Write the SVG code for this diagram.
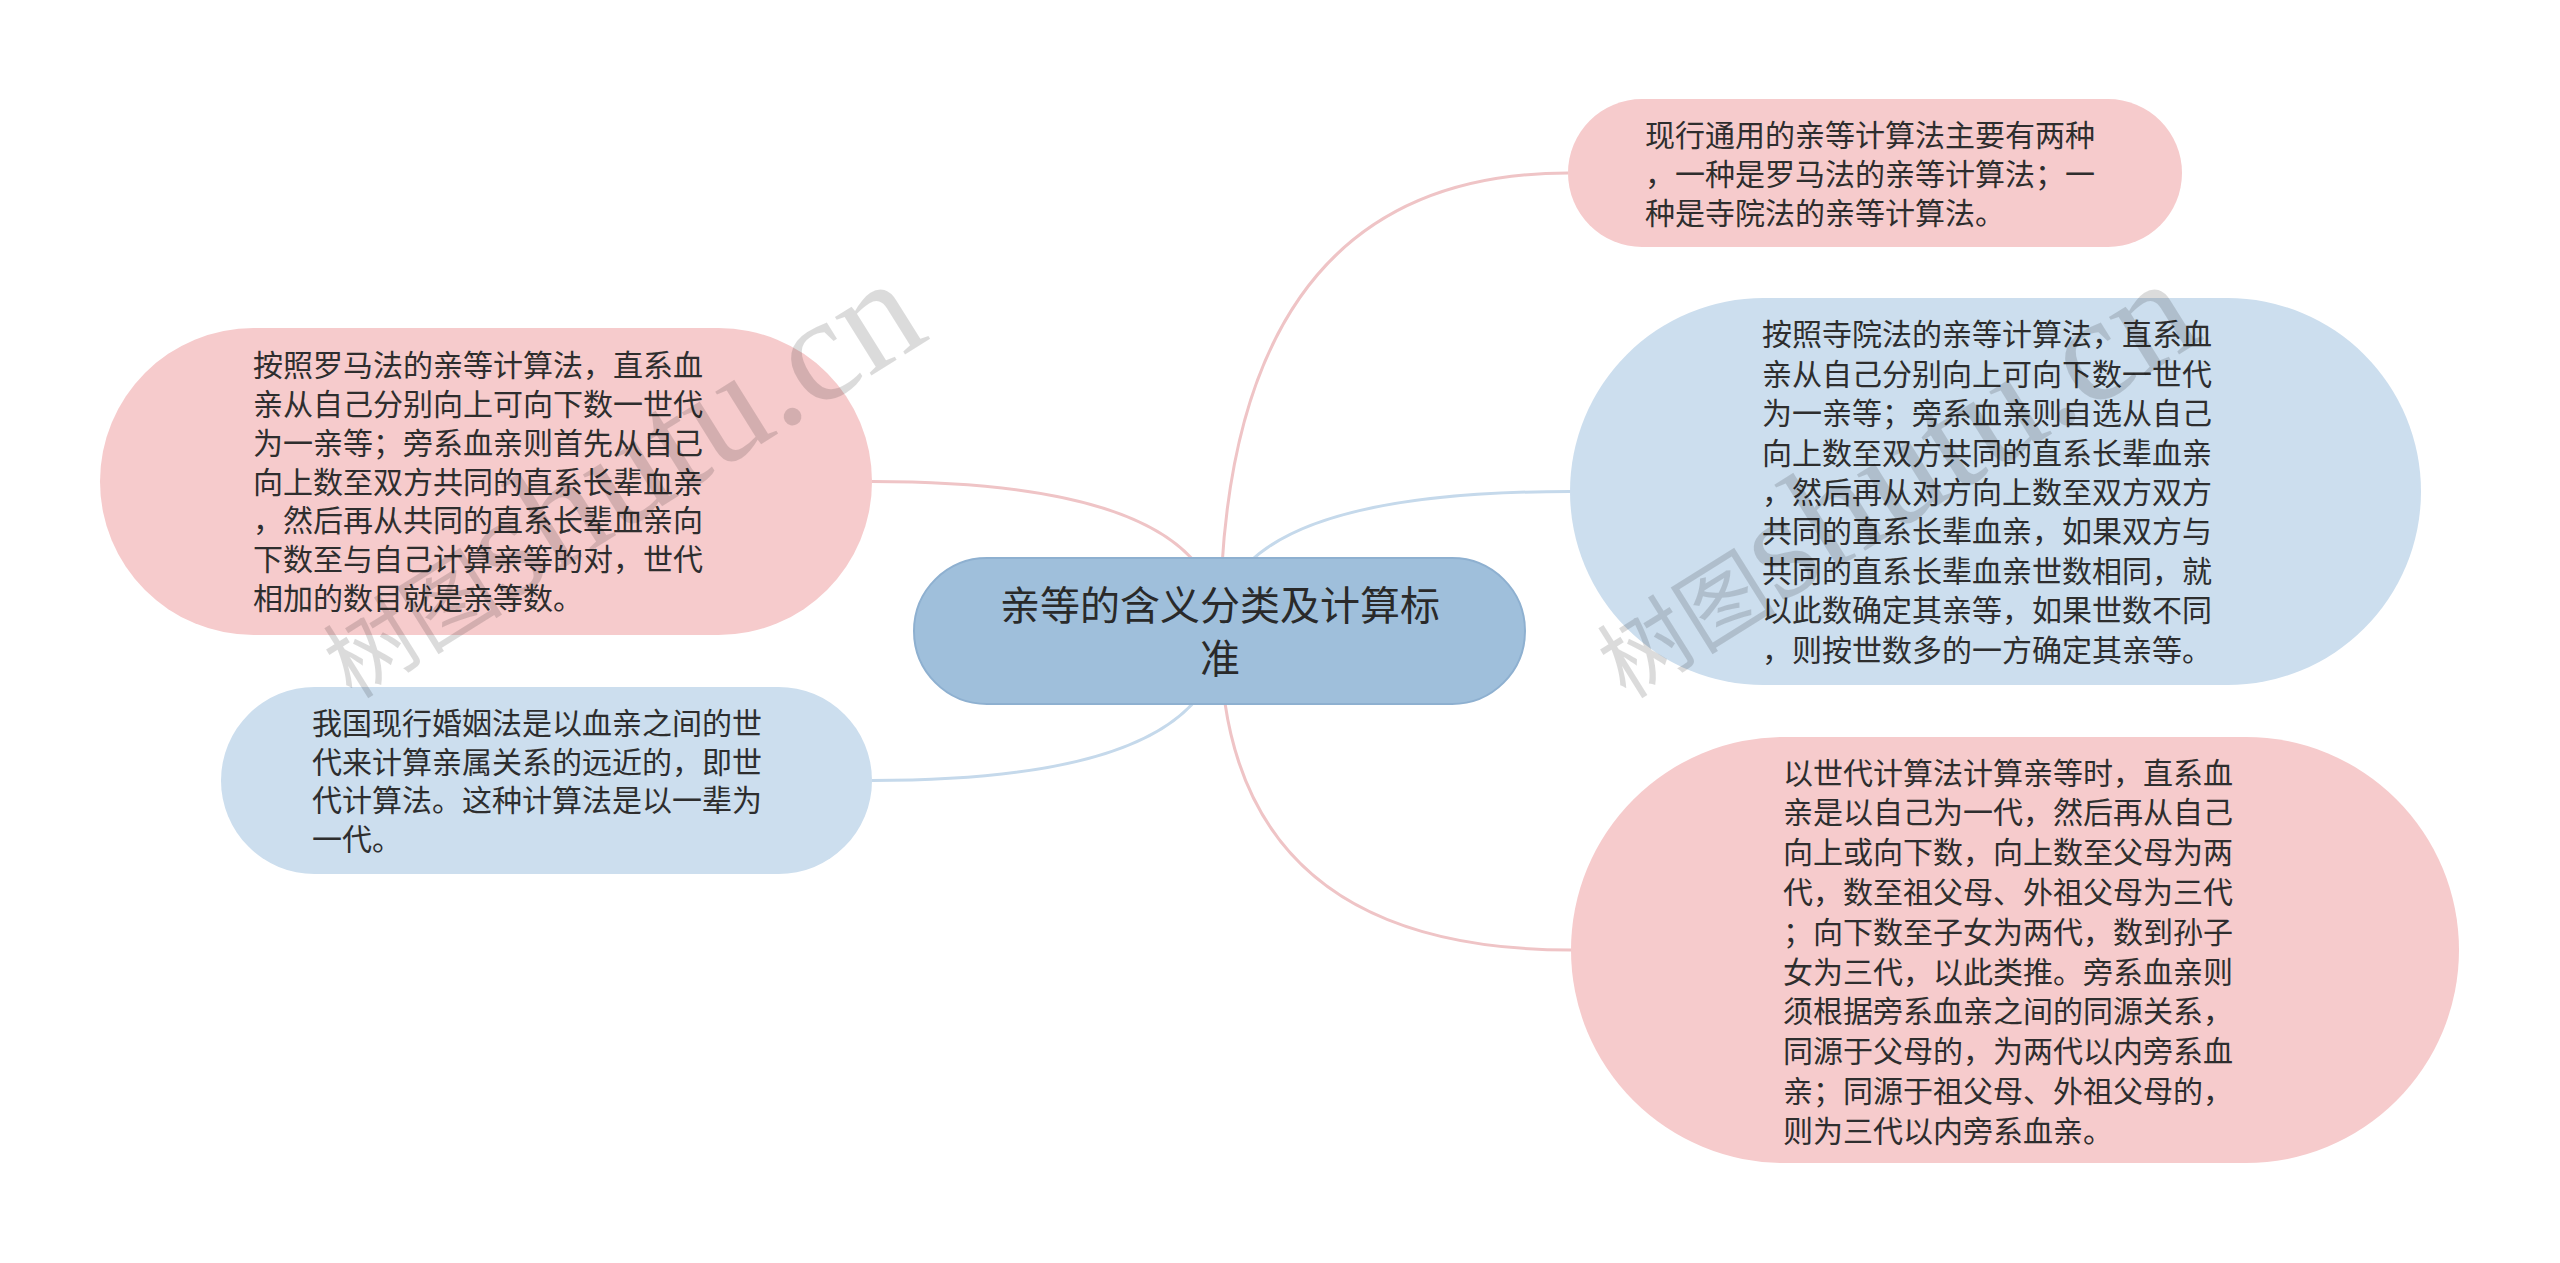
<svg xmlns="http://www.w3.org/2000/svg" width="2560" height="1263" viewBox="0 0 2560 1263">
<style>
  .t { font-family: "Noto Sans CJK SC", "Noto Sans", sans-serif; font-size: 30px; fill: #2e2e2e; }
  .tc { font-family: "Noto Sans CJK SC", "Noto Sans", sans-serif; font-size: 40px; fill: #2a2a2a; text-anchor: middle; }
  .pink { fill: #f6cbcc; }
  .blue { fill: #ccdeee; }
  .center { fill: #9fbfdb; stroke: #8eb0d0; stroke-width: 2; }
  .lp { fill: none; stroke: #efc4c6; stroke-width: 3; }
  .lb { fill: none; stroke: #c5d9eb; stroke-width: 3; }
  .wm { font-family: "Liberation Serif", "Noto Sans CJK SC", serif; fill: #000; fill-opacity: 0.14; }
</style>
<rect width="2560" height="1263" fill="#ffffff"/>
<g id="connectors">
  <path class="lp" d="M1220 632 Q1220 173 1568 173"/>
  <path class="lb" d="M1220 632 Q1220 491.5 1570 491.5"/>
  <path class="lp" d="M1220 632 Q1220 950 1571 950"/>
  <path class="lp" d="M1220 632 Q1220 481.5 872 481.5"/>
  <path class="lb" d="M1220 632 Q1220 780.5 872 780.5"/>
</g>
<g id="center">
  <rect class="center" x="914" y="558" width="611" height="146" rx="73"/>
  <text class="tc" x="1220" y="620">亲等的含义分类及计算标</text>
  <text class="tc" x="1220" y="673">准</text>
</g>
<g id="node-top-right">
  <rect class="pink" x="1568" y="99" width="614" height="148" rx="74"/>
  <text class="t" x="1645" y="146">现行通用的亲等计算法主要有两种</text>
  <text class="t" x="1645" y="185">，一种是罗马法的亲等计算法；一</text>
  <text class="t" x="1645" y="224">种是寺院法的亲等计算法。</text>
</g>
<g id="node-right-blue">
  <rect class="blue" x="1570" y="298" width="851" height="387" rx="193.5"/>
  <text class="t" x="1762" y="345.4">按照寺院法的亲等计算法，直系血</text>
  <text class="t" x="1762" y="384.8">亲从自己分别向上可向下数一世代</text>
  <text class="t" x="1762" y="424.2">为一亲等；旁系血亲则自选从自己</text>
  <text class="t" x="1762" y="463.6">向上数至双方共同的直系长辈血亲</text>
  <text class="t" x="1762" y="503">，然后再从对方向上数至双方双方</text>
  <text class="t" x="1762" y="542.4">共同的直系长辈血亲，如果双方与</text>
  <text class="t" x="1762" y="581.8">共同的直系长辈血亲世数相同，就</text>
  <text class="t" x="1762" y="621.2">以此数确定其亲等，如果世数不同</text>
  <text class="t" x="1762" y="660.6">，则按世数多的一方确定其亲等。</text>
</g>
<g id="node-bottom-right">
  <rect class="pink" x="1571" y="737" width="888" height="426" rx="213"/>
  <text class="t" x="1783" y="783.5">以世代计算法计算亲等时，直系血</text>
  <text class="t" x="1783" y="823.3">亲是以自己为一代，然后再从自己</text>
  <text class="t" x="1783" y="863.1">向上或向下数，向上数至父母为两</text>
  <text class="t" x="1783" y="902.9">代，数至祖父母、外祖父母为三代</text>
  <text class="t" x="1783" y="942.7">；向下数至子女为两代，数到孙子</text>
  <text class="t" x="1783" y="982.5">女为三代，以此类推。旁系血亲则</text>
  <text class="t" x="1783" y="1022.3">须根据旁系血亲之间的同源关系，</text>
  <text class="t" x="1783" y="1062.1">同源于父母的，为两代以内旁系血</text>
  <text class="t" x="1783" y="1101.9">亲；同源于祖父母、外祖父母的，</text>
  <text class="t" x="1783" y="1141.7">则为三代以内旁系血亲。</text>
</g>
<g id="node-top-left">
  <rect class="pink" x="100" y="328" width="772" height="307" rx="153.5"/>
  <text class="t" x="253" y="376.4">按照罗马法的亲等计算法，直系血</text>
  <text class="t" x="253" y="415.1">亲从自己分别向上可向下数一世代</text>
  <text class="t" x="253" y="453.8">为一亲等；旁系血亲则首先从自己</text>
  <text class="t" x="253" y="492.5">向上数至双方共同的直系长辈血亲</text>
  <text class="t" x="253" y="531.2">，然后再从共同的直系长辈血亲向</text>
  <text class="t" x="253" y="569.9">下数至与自己计算亲等的对，世代</text>
  <text class="t" x="253" y="608.6">相加的数目就是亲等数。</text>
</g>
<g id="node-bottom-left">
  <rect class="blue" x="221" y="687" width="651" height="187" rx="93.5"/>
  <text class="t" x="312" y="734.3">我国现行婚姻法是以血亲之间的世</text>
  <text class="t" x="312" y="772.8">代来计算亲属关系的远近的，即世</text>
  <text class="t" x="312" y="811.3">代计算法。这种计算法是以一辈为</text>
  <text class="t" x="312" y="849.8">一代。</text>
</g>
<g id="watermarks">
  <text class="wm" transform="translate(352 700) rotate(-32)"><tspan font-size="90" font-family="Noto Sans CJK SC, sans-serif">树图</tspan><tspan font-size="150">shutu.cn</tspan></text>
  <text class="wm" transform="translate(1626 700) rotate(-32)"><tspan font-size="90" font-family="Noto Sans CJK SC, sans-serif">树图</tspan><tspan font-size="150">shutu.cn</tspan></text>
</g>
</svg>
